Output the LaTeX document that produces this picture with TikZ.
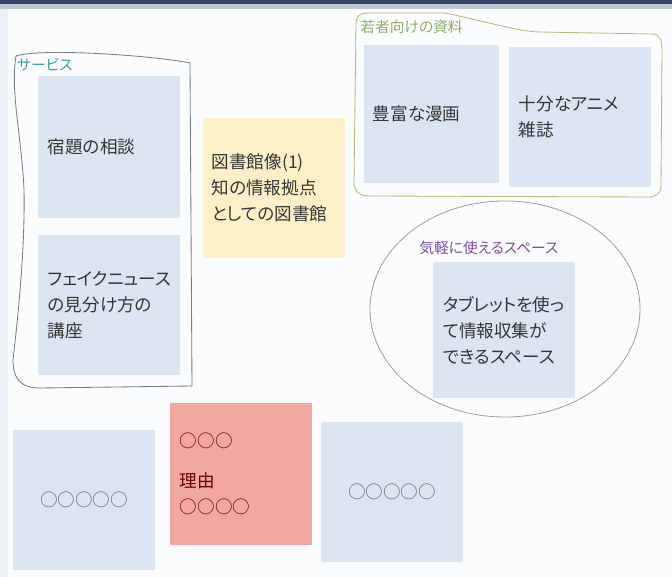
\documentclass[tikz,border=0pt]{standalone}
\usepackage{fontspec}
\usepackage{xcolor}
\usetikzlibrary{shapes.geometric}
\newfontfamily\jp[RawFeature=+palt]{Noto Sans CJK JP}
\definecolor{cardblue}{HTML}{DCE6F2}
\definecolor{cardyellow}{HTML}{FDF0C9}
\definecolor{cardred}{HTML}{F2A7A0}
\definecolor{inktext}{HTML}{363636}
\definecolor{ringgray}{HTML}{A0A0A0}
\definecolor{blobgray}{HTML}{767E84}
\definecolor{blobgreen}{HTML}{B4BC78}
\definecolor{tealtext}{HTML}{3C9CA2}
\definecolor{greentext}{HTML}{8CB064}
\definecolor{purpletext}{HTML}{7A50A2}
\definecolor{navybar}{HTML}{34466A}
\definecolor{paper}{HTML}{FBFCFE}

\begin{document}
\begin{tikzpicture}[
        x=0.025cm, y=-0.025cm,
        font=\jp\fontsize{12.5}{18.5}\selectfont,
        card/.style={fill=cardblue, text=inktext, text width=3.05cm,
                     inner xsep=0.25cm, inner ysep=0pt, minimum height=3.5cm, align=left},
        centered card/.style={card, align=center, text=gray!80!black},
        group label/.style={font=\jp\fontsize{10.5}{12}\selectfont, anchor=west, inner sep=0pt}
        ]
% background
\fill[paper] (0,0) rectangle (672,577);
\useasboundingbox (0,0) rectangle (672,577);
\fill[cardblue!50!paper] (0,0) rectangle (8,577);
\fill[navybar!30!paper] (0,4) rectangle (672,9);
\fill[navybar] (0,0) rectangle (672,4);

% groups
\draw[blobgray, line width=0.6pt] (16,56) .. controls (40,48) and (150,55) .. (190,63)
   -- (192,386) -- (40,388) .. controls (20,388) and (13,378) .. (13,360)
   .. controls (20,300) and (25,240) .. (24,190)
   .. controls (22,140) and (10,90) .. (16,56);
\draw[blobgreen, line width=0.6pt] (356,24) .. controls (356,15) and (360,13) .. (370,13)
   -- (445,13) .. controls (480,20) and (520,32) .. (540,32)
   -- (652,34) .. controls (660,34) and (662,40) .. (662,50)
   -- (661,186) .. controls (661,194) and (656,197) .. (648,197)
   -- (370,196) .. controls (360,196) and (354,192) .. (354,182) -- cycle;
\node (space) [ellipse, draw=ringgray, line width=0.6pt, minimum width=6.75cm, minimum height=5.4cm] at (505,309) {};

\node (servicelabel) [group label, text=tealtext] at (17,65) {サービス};
\node (youthlabel) [group label, text=greentext] at (360,27) {若者向けの資料};
\node (spacelabel) [group label, text=purpletext] at (419,248) {気軽に使えるスペース};

% cards
\node (consult) [card, minimum height=3.55cm] at (109,147) {宿題の相談};
\node (fakenews) [card] at (109,305) {フェイクニュース\\の見分け方の\\講座};
\node (libimage) [card, fill=cardyellow, inner xsep=0.22cm, text width=3.11cm] at (274,188)
      {図書館像(1)\\知の情報拠点\\としての図書館};
\node (manga) [card, minimum height=3.45cm, text width=2.93cm, inner xsep=0.22cm] at (431.5,114) {豊富な漫画};
\node (anime) [card] at (580,117) {十分なアニメ\\雑誌};
\node (tablet) [card, minimum height=3.4cm] at (504,330) {タブレットを使っ\\て情報収集が\\できるスペース};
\node (leftblank) [centered card] at (84,500) {○○○○○};
\node (reason) [card, fill=cardred, text=red!40!black, minimum height=3.55cm] at (241,474)
      {○○○\\[10pt]理由\\○○○○};
\node (rightblank) [centered card] at (392,492) {○○○○○};
\end{tikzpicture}
\end{document}
